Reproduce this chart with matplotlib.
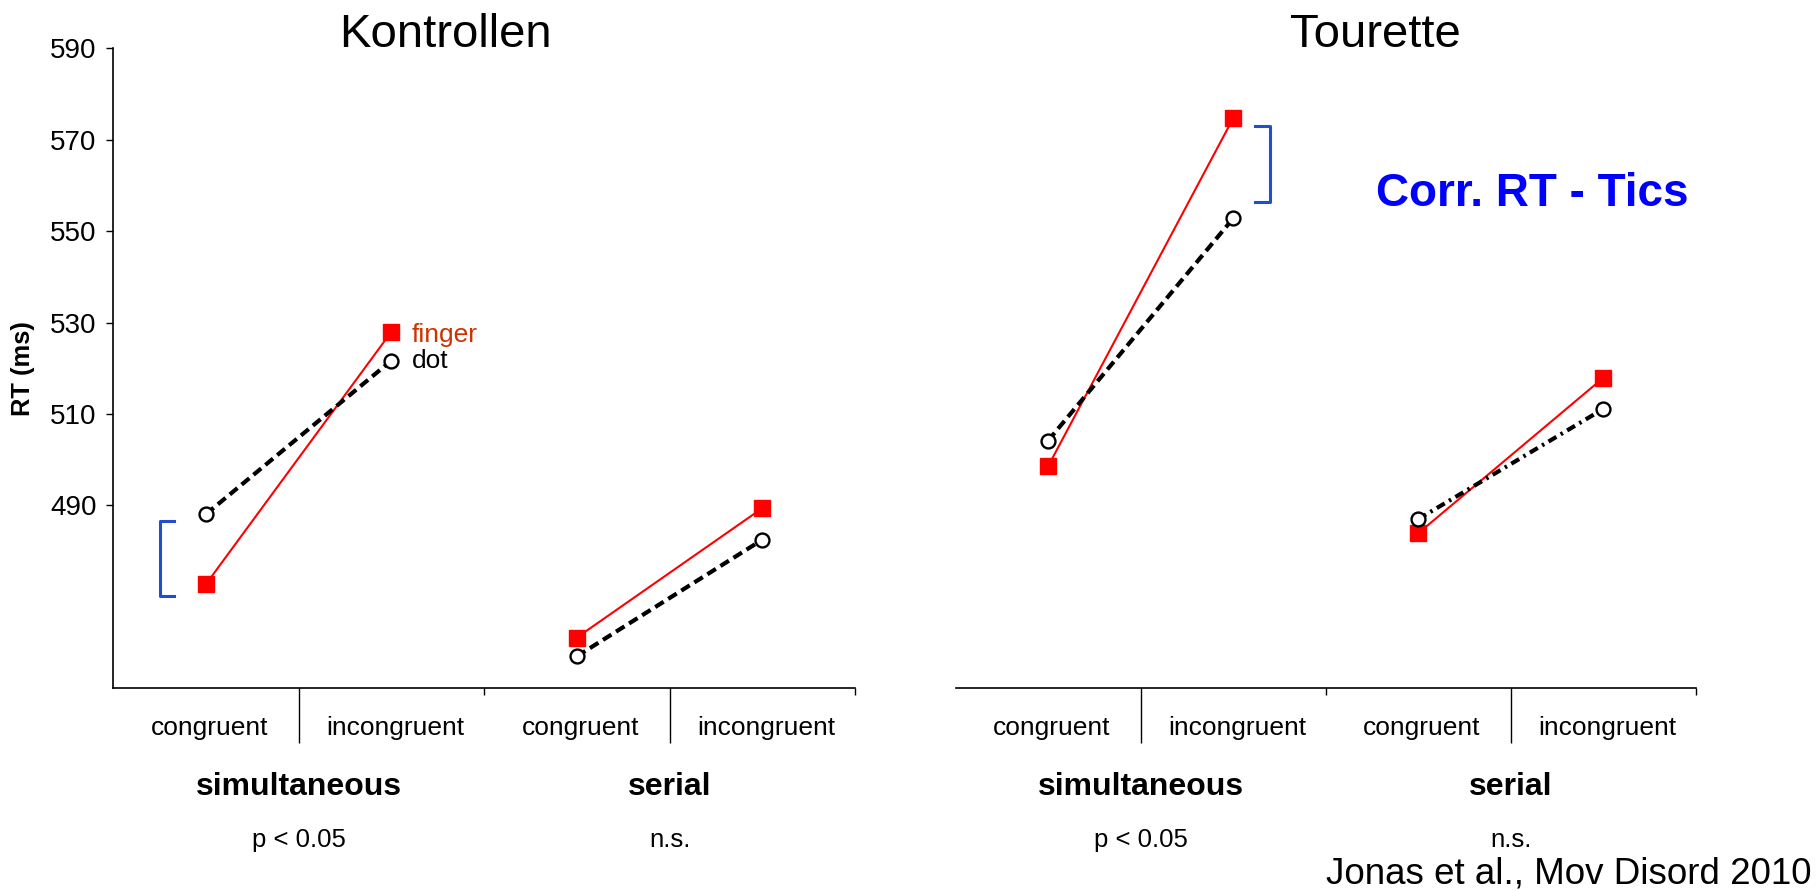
import matplotlib
matplotlib.use("Agg")
import matplotlib.pyplot as plt
import matplotlib.transforms as mtransforms

plt.rcParams['font.family'] = ['Liberation Sans', 'DejaVu Sans']

# ---- data ----
conditions = ["congruent", "incongruent", "congruent", "incongruent"]
groups = ["simultaneous", "serial"]
stats = ["p < 0.05", "n.s."]
panels = ["Kontrollen", "Tourette"]
yticks = [490, 510, 530, 550, 570, 590]

ctrl_finger_sim = [472.8, 528.0]
ctrl_dot_sim = [488.1, 521.7]
ctrl_finger_ser = [461.1, 489.4]
ctrl_dot_ser = [457.0, 482.5]

ts_finger_sim = [498.6, 574.7]
ts_dot_sim = [504.2, 552.8]
ts_finger_ser = [483.9, 517.9]
ts_dot_ser = [487.0, 511.1]

ctrl_bracket = [470.3, 486.7]
ts_bracket = [556.3, 572.9]

W, H = 1817, 891
fig = plt.figure(figsize=(W / 100, H / 100), dpi=100)

def fx(px):
    return px / W

def fy(py):
    return 1 - py / H

ax_bottom = fy(688.3)
ax_h = fy(48.3) - ax_bottom
axL = fig.add_axes([fx(113.3), ax_bottom, fx(741.7), ax_h])
axR = fig.add_axes([fx(955.7), ax_bottom, fx(740.0), ax_h])

RED = "#ff0000"
BLUE = "#1f4fd0"

def draw_panel(ax, f_sim, d_sim, f_ser, d_ser, ser_dash_dot=False):
    xs_sim = [0.5, 1.5]
    xs_ser = [2.5, 3.5]
    for xs, fv, dv, dd in [(xs_sim, f_sim, d_sim, False), (xs_ser, f_ser, d_ser, ser_dash_dot)]:
        ax.plot(xs, fv, color=RED, lw=1.5, marker="s", ms=11, mfc=RED, mec=RED,
                zorder=3)
        dashes = (2.2, 1.2, 0.6, 1.2) if dd else (2.4, 1.3)
        ax.plot(xs, dv, color="black", lw=3.0, dashes=dashes, zorder=4)
        ax.plot(xs, dv, ls="none", marker="o", ms=10, mfc="white", mec="black",
                mew=1.7, zorder=5)
    ax.set_xlim(0, 4)
    ax.set_ylim(450, 590)
    for s in ["top", "right"]:
        ax.spines[s].set_visible(False)
    ax.spines["bottom"].set_linewidth(1.2)
    ax.spines["left"].set_linewidth(1.2)
    ax.set_xticks([1, 3])
    ax.set_xticks([2, 4], minor=True)
    ax.tick_params(axis="x", which="major", length=39.5, width=1.0, labelbottom=False)
    ax.tick_params(axis="x", which="minor", length=5, width=1.0, labelbottom=False)

draw_panel(axL, ctrl_finger_sim, ctrl_dot_sim, ctrl_finger_ser, ctrl_dot_ser)
draw_panel(axR, ts_finger_sim, ts_dot_sim, ts_finger_ser, ts_dot_ser, ser_dash_dot=True)

axL.set_yticks(yticks)
axL.set_yticklabels([str(v) for v in yticks], fontsize=20)
axL.tick_params(axis="y", length=5, width=1.0, pad=7)

axR.spines["left"].set_visible(False)
axR.set_yticks([])

# brackets
axL.plot([0.33, 0.25, 0.25, 0.33], [ctrl_bracket[1], ctrl_bracket[1], ctrl_bracket[0], ctrl_bracket[0]],
         color=BLUE, lw=2.2, clip_on=False)
axR.plot([1.62, 1.70, 1.70, 1.62], [ts_bracket[1], ts_bracket[1], ts_bracket[0], ts_bracket[0]],
         color=BLUE, lw=2.2, clip_on=False)

# category / group labels
for ax in (axL, axR):
    tr = mtransforms.blended_transform_factory(ax.transData, fig.transFigure)
    for i, c in enumerate(conditions):
        ax.text(i + 0.52, fy(735), c, transform=tr, ha="center", va="baseline", fontsize=19)
    for g, (name, st) in enumerate(zip(groups, stats)):
        ax.text(2 * g + 1, fy(795), name, transform=tr, ha="center", va="baseline",
                fontsize=23, fontweight="bold")
        ax.text(2 * g + 1, fy(846.7), st, transform=tr, ha="center", va="baseline", fontsize=18.5)

# titles
fig.text(fx(445), fy(46.7), panels[0], ha="center", va="baseline", fontsize=34)
fig.text(fx(1375), fy(46.7), panels[1], ha="center", va="baseline", fontsize=34)

# y label
fig.text(fx(23), fy(369), "RT (ms)", rotation=90, ha="center", va="center",
         fontsize=18.4, fontweight="bold")

# legend-like labels
fig.text(fx(411.7), fy(341.7), "finger", color="#cc3300", ha="left", va="baseline", fontsize=19)
fig.text(fx(411.7), fy(368.3), "dot", color="black", ha="left", va="baseline", fontsize=19)

# annotation
fig.text(fx(1376), fy(206), "Corr. RT - Tics", color="#0000ff", ha="left", va="baseline",
         fontsize=33, fontweight="bold")
fig.text(fx(1326), fy(884), "Jonas et al., Mov Disord 2010", ha="left", va="baseline", fontsize=26.5)

fig.savefig("out.png", dpi=100, facecolor="white")
